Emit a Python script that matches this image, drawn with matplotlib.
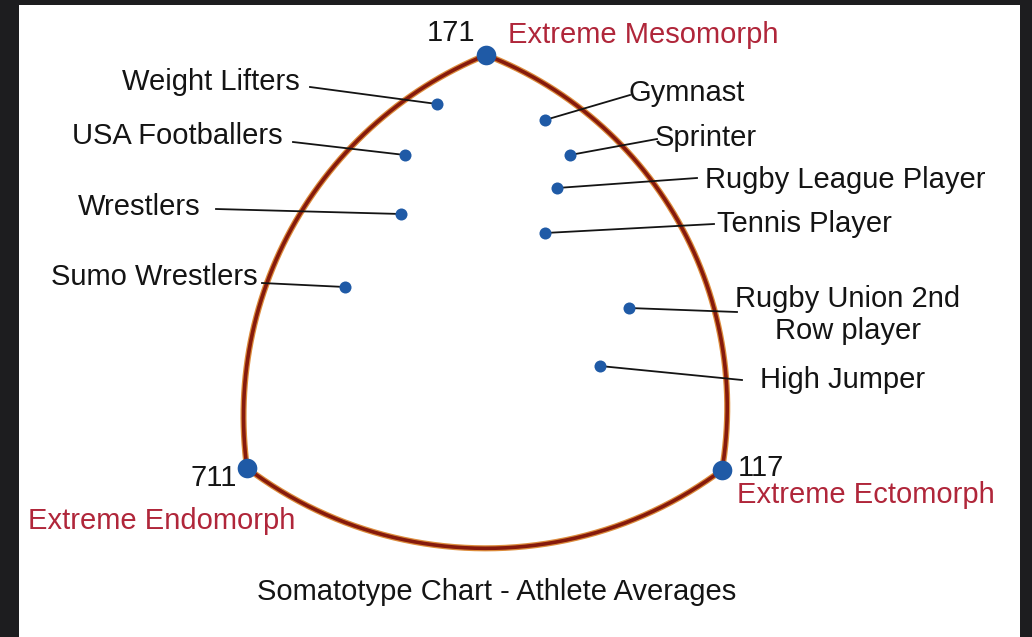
import numpy as np
import matplotlib
matplotlib.use("Agg")
import matplotlib.pyplot as plt

# ---------------- data ----------------
athletes = ["Weight Lifters", "USA Footballers", "Wrestlers", "Sumo Wrestlers",
            "Gymnast", "Sprinter", "Rugby League Player", "Tennis Player",
            "Rugby Union 2nd\nRow player", "High Jumper"]
athlete_x = [437, 405, 401, 345, 545, 570, 557, 545, 629, 600]
athlete_y = [104, 155, 214, 287, 120, 155, 188, 233, 308, 366]

vertex_codes = ["171", "711", "117"]
vertex_names = ["Extreme Mesomorph", "Extreme Endomorph", "Extreme Ectomorph"]
vertex_x = [486, 247, 722]
vertex_y = [55, 468, 470]

# points through which each bounding arc passes (top-left, top-right, bottom)
arc_mid_x = [268, 715, 470]
arc_mid_y = [280, 312, 548]

title = "Somatotype Chart - Athlete Averages"

# ---------------- layout ----------------
W, H = 1032, 637
label_pos = [(300, 82, "right"), (283, 136, "right"), (201, 207, "right"), (258, 277, "right"),
             (628, 93, "left"), (655, 138, "left"), (705, 180, "left"), (717, 224, "left"),
             (735, 315, "left"), (760, 380, "left")]
leader_start = [(310, 87), (293, 142), (216, 209), (262, 283),
                (630, 95), (657, 139), (697, 178), (714, 224),
                (737, 312), (742, 380)]

RED = "#b0263a"
BLACK = "#141414"
BLUE = "#1f5aa6"
FS = 21
plt.rcParams["font.family"] = ["Liberation Sans", "DejaVu Sans"]

fig = plt.figure(figsize=(W / 100, H / 100), dpi=100, facecolor="#1d1d1f")
ax = fig.add_axes([19 / W, 0, (1020 - 19) / W, (H - 5) / H])
ax.set_facecolor("white")
ax.set_xlim(19, 1020)
ax.set_ylim(H, 5)
ax.set_xticks([])
ax.set_yticks([])
for s in ax.spines.values():
    s.set_visible(False)


def arc_through(p0, pm, p1, n=300):
    (x1, y1), (x2, y2), (x3, y3) = p0, pm, p1
    d = 2 * (x1 * (y2 - y3) + x2 * (y3 - y1) + x3 * (y1 - y2))
    ux = ((x1**2 + y1**2) * (y2 - y3) + (x2**2 + y2**2) * (y3 - y1) + (x3**2 + y3**2) * (y1 - y2)) / d
    uy = ((x1**2 + y1**2) * (x3 - x2) + (x2**2 + y2**2) * (x1 - x3) + (x3**2 + y3**2) * (x2 - x1)) / d
    r = np.hypot(x1 - ux, y1 - uy)
    a0 = np.arctan2(y1 - uy, x1 - ux)
    am = np.arctan2(y2 - uy, x2 - ux)
    a1 = np.arctan2(y3 - uy, x3 - ux)

    def norm(a):
        return a % (2 * np.pi)
    ccw_span = norm(a1 - a0)
    if norm(am - a0) <= ccw_span:
        t = np.linspace(a0, a0 + ccw_span, n)
    else:
        t = np.linspace(a0, a0 - (2 * np.pi - ccw_span), n)
    return ux + r * np.cos(t), uy + r * np.sin(t)


pairs = [(0, 1), (0, 2), (1, 2)]
for (i, j), mx, my in zip(pairs, arc_mid_x, arc_mid_y):
    xs, ys = arc_through((vertex_x[i], vertex_y[i]), (mx, my), (vertex_x[j], vertex_y[j]))
    ax.plot(xs, ys, color="#dc8c3c", lw=4.4, solid_capstyle="round", zorder=2)
    ax.plot(xs, ys, color="#861a0c", lw=2.6, solid_capstyle="round", zorder=3)

# leader lines and labels
for name, x, y, (lx, ly, ha), (sx, sy) in zip(athletes, athlete_x, athlete_y, label_pos, leader_start):
    ax.plot([sx, x], [sy, y], color=BLACK, lw=1.3, zorder=4)
    ax.text(lx, ly, name, ha=ha, va="center", fontsize=FS, color=BLACK,
            multialignment="center", linespacing=1.2, zorder=6)

ax.scatter(athlete_x, athlete_y, s=75, color=BLUE, zorder=5, linewidths=0)
ax.scatter(vertex_x, vertex_y, s=200, color=BLUE, zorder=5, linewidths=0)

# vertex labels
code_pos = [(475, 33, "right"), (237, 478, "right"), (738, 468, "left")]
name_pos = [(508, 35, "left"), (28, 521, "left"), (737, 495, "left")]
for code, nm, (cx, cy, cha), (nx, ny, nha) in zip(vertex_codes, vertex_names, code_pos, name_pos):
    ax.text(cx, cy, code, ha=cha, va="center", fontsize=FS, color=BLACK, zorder=6)
    ax.text(nx, ny, nm, ha=nha, va="center", fontsize=FS, color=RED, zorder=6)

ax.text(497, 592, title, ha="center", va="center", fontsize=FS, color=BLACK)

fig.savefig("out.png", dpi=100, facecolor=fig.get_facecolor())
